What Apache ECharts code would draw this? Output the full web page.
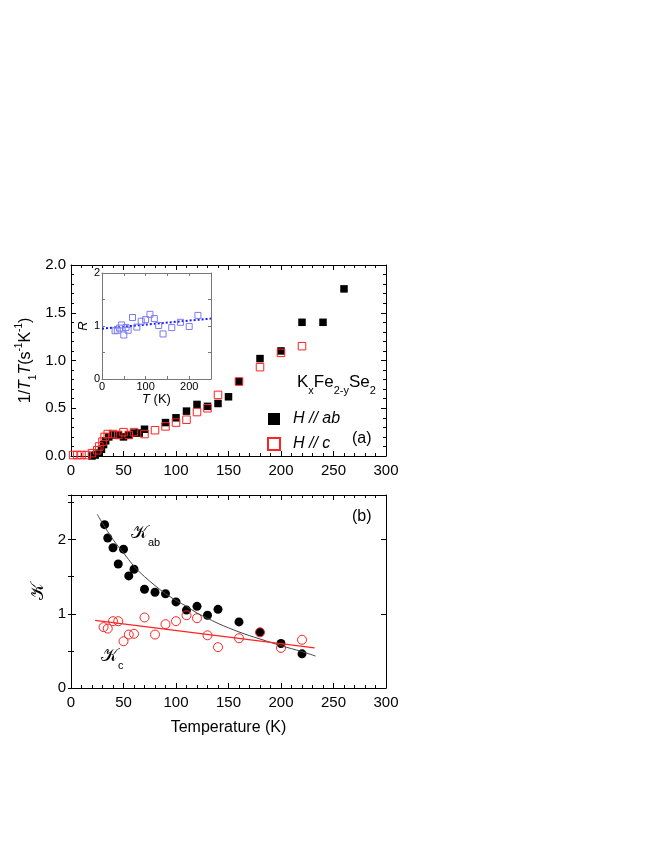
<!DOCTYPE html>
<html>
<head>
<meta charset="utf-8">
<script src="https://cdn.jsdelivr.net/npm/echarts@6/dist/echarts.min.js"></script>
<style>
html,body{margin:0;padding:0;background:#fff;}
#chart{width:664px;height:860px;}
</style>
</head>
<body>
<div id="chart"></div>
<script>
// ---- Panel (a): 1/T1T vs T ----
const abT   = [20, 23, 26, 29, 31, 33, 36, 40, 45, 50, 55, 60, 65, 70, 90, 100, 110, 120, 130, 140, 150, 160, 180, 200, 220, 240, 260];
const abVal = [0.0, 0.01, 0.03, 0.07, 0.12, 0.16, 0.2, 0.22, 0.22, 0.2, 0.22, 0.24, 0.24, 0.28, 0.35, 0.4, 0.47, 0.54, 0.52, 0.55, 0.62, 0.78, 1.02, 1.1, 1.4, 1.4, 1.75];
const cT    = [2, 6, 10, 15, 20, 25, 27, 30, 32, 35, 40, 45, 50, 55, 60, 70, 80, 90, 100, 110, 120, 130, 140, 160, 180, 200, 220];
const cVal  = [0.01, 0.01, 0.01, 0.01, 0.03, 0.06, 0.1, 0.15, 0.2, 0.23, 0.23, 0.22, 0.25, 0.22, 0.25, 0.23, 0.27, 0.31, 0.35, 0.38, 0.46, 0.5, 0.64, 0.78, 0.93, 1.08, 1.15];

// ---- Inset: R vs T ----
const insetT = [30, 35, 40, 45, 50, 55, 60, 70, 80, 90, 100, 110, 120, 130, 140, 160, 180, 200, 220];
const insetR = [0.91, 0.92, 0.96, 1.02, 0.83, 0.97, 0.92, 1.16, 0.98, 1.09, 1.12, 1.22, 1.14, 1.01, 0.85, 0.97, 1.07, 0.99, 1.2];
const insetFitT = [0, 250];
const insetFitR = [0.95, 1.14];

// ---- Panel (b): K vs T ----
const kabT   = [32, 35, 40, 45, 50, 55, 60, 70, 80, 90, 100, 110, 120, 130, 140, 160, 180, 200, 220];
const kabVal = [2.2, 2.02, 1.89, 1.67, 1.87, 1.51, 1.6, 1.33, 1.29, 1.27, 1.16, 1.05, 1.1, 0.98, 1.06, 0.89, 0.75, 0.6, 0.46];
const kcT    = [31, 35, 40, 45, 50, 55, 60, 70, 80, 90, 100, 110, 120, 130, 140, 160, 180, 200, 220];
const kcVal  = [0.82, 0.8, 0.9, 0.9, 0.63, 0.72, 0.73, 0.95, 0.72, 0.86, 0.9, 0.98, 0.94, 0.71, 0.55, 0.67, 0.75, 0.54, 0.65];
const kabFitT = [25, 30, 40, 50, 60, 70, 80, 90, 100, 110, 120, 130, 140, 150, 160, 170, 180, 190, 200, 210, 220, 233];
const kabFitV = [2.34, 2.22, 2.0, 1.82, 1.64, 1.5, 1.38, 1.27, 1.18, 1.1, 1.01, 0.94, 0.87, 0.81, 0.755, 0.705, 0.66, 0.615, 0.57, 0.53, 0.49, 0.43];
const kcFitT = [23, 232];
const kcFitV = [0.91, 0.54];

const xTicks = [0, 50, 100, 150, 200, 250, 300];

const pair = (xs, ys) => xs.map((x, i) => [x, ys[i]]);

const FONT = '"Liberation Sans", Arial, sans-serif';
const RED = '#ff2222';

function mainX(gi, pos, labels) {
  return {
    gridIndex: gi, type: 'value', position: pos, min: 0, max: 300, interval: 50,
    axisLine: {show: true, onZero: false, lineStyle: {color: '#000', width: 1}},
    axisTick: {show: true, inside: true, length: 5, lineStyle: {color: '#000'}},
    minorTick: {show: true, splitNumber: 5, length: 3, lineStyle: {color: '#000'}},
    axisLabel: {show: labels, color: '#000', fontSize: 15, fontFamily: FONT, margin: 7},
    splitLine: {show: false}
  };
}

const option = {
  animation: false,
  backgroundColor: '#fff',
  grid: [
    {left: 71, top: 265, width: 315, height: 191},
    {left: 102, top: 273, width: 109, height: 106, show: true, backgroundColor: '#fff', borderWidth: 0},
    {left: 71, top: 495, width: 315, height: 193}
  ],
  xAxis: [
    mainX(0, 'bottom', true),
    mainX(0, 'top', false),
    {
      gridIndex: 1, type: 'value', position: 'bottom', min: 0, max: 250, interval: 50,
      name: '{i|T} (K)', nameLocation: 'middle', nameGap: 13,
      nameTextStyle: {color: '#000', fontSize: 13, fontFamily: FONT, rich: {i: {fontStyle: 'italic', fontSize: 13, fontFamily: FONT}}},
      axisLine: {show: true, onZero: false, lineStyle: {color: '#777'}},
      axisTick: {show: true, inside: true, length: 3, lineStyle: {color: '#777'}},
      axisLabel: {show: true, color: '#000', fontSize: 11, fontFamily: FONT, margin: 2,
        formatter: v => (v % 100 === 0 ? String(v) : '')},
      splitLine: {show: false}
    },
    {
      gridIndex: 1, type: 'value', position: 'top', min: 0, max: 250, interval: 50,
      axisLine: {show: true, onZero: false, lineStyle: {color: '#777'}},
      axisTick: {show: true, inside: true, length: 3, lineStyle: {color: '#777'}},
      axisLabel: {show: false}, splitLine: {show: false}
    },
    Object.assign(mainX(2, 'bottom', true), {
      name: 'Temperature (K)', nameLocation: 'middle', nameGap: 32,
      nameTextStyle: {color: '#000', fontSize: 16, fontFamily: FONT}
    }),
    mainX(2, 'top', false)
  ],
  yAxis: [
    {
      gridIndex: 0, type: 'value', position: 'left', min: 0, max: 2, interval: 0.5,
      name: '{n|1/}{i|T}{s|1}{i|T}{n|(s}{p|-1}{n|K}{p|-1}{n|)}',
      nameLocation: 'middle', nameGap: 33,
      nameTextStyle: {
        color: '#000', fontSize: 16, fontFamily: FONT,
        rich: {
          n: {fontSize: 16, fontFamily: FONT, lineHeight: 18},
          i: {fontSize: 16, fontFamily: FONT, fontStyle: 'italic', lineHeight: 18},
          s: {fontSize: 10, fontFamily: FONT, verticalAlign: 'bottom', lineHeight: 24},
          p: {fontSize: 10, fontFamily: FONT, verticalAlign: 'top', lineHeight: 24}
        }
      },
      axisLine: {show: true, onZero: false, lineStyle: {color: '#000'}},
      axisTick: {show: true, inside: true, length: 5, lineStyle: {color: '#000'}},
      minorTick: {show: true, splitNumber: 5, length: 3, lineStyle: {color: '#000'}},
      axisLabel: {color: '#000', fontSize: 15, fontFamily: FONT, margin: 5, formatter: v => v.toFixed(1)},
      splitLine: {show: false}
    },
    {
      gridIndex: 0, type: 'value', position: 'right', min: 0, max: 2, interval: 0.5,
      axisLine: {show: true, onZero: false, lineStyle: {color: '#000'}},
      axisTick: {show: true, inside: true, length: 5, lineStyle: {color: '#000'}},
      minorTick: {show: true, splitNumber: 5, length: 3, lineStyle: {color: '#000'}},
      axisLabel: {show: false}, splitLine: {show: false}
    },
    {
      gridIndex: 1, type: 'value', position: 'left', min: 0, max: 2, interval: 0.5,
      name: 'R', nameLocation: 'middle', nameGap: 12,
      nameTextStyle: {color: '#000', fontSize: 13, fontFamily: FONT, fontStyle: 'italic'},
      axisLine: {show: true, onZero: false, lineStyle: {color: '#777'}},
      axisTick: {show: true, inside: true, length: 3, lineStyle: {color: '#777'}},
      axisLabel: {show: true, color: '#000', fontSize: 11, fontFamily: FONT, margin: 2,
        formatter: v => (v % 1 === 0 ? String(v) : '')},
      splitLine: {show: false}
    },
    {
      gridIndex: 1, type: 'value', position: 'right', min: 0, max: 2, interval: 0.5,
      axisLine: {show: true, onZero: false, lineStyle: {color: '#777'}},
      axisTick: {show: true, inside: true, length: 3, lineStyle: {color: '#777'}},
      axisLabel: {show: false}, splitLine: {show: false}
    },
    {
      gridIndex: 2, type: 'value', position: 'left', min: 0, max: 2.6, interval: 1,
      name: '𝒦', nameLocation: 'middle', nameGap: 24,
      nameTextStyle: {color: '#000', fontSize: 18, fontFamily: '"DejaVu Serif", "DejaVu Sans", serif'},
      axisLine: {show: true, onZero: false, lineStyle: {color: '#000'}},
      axisTick: {show: true, inside: true, length: 5, lineStyle: {color: '#000'}},
      axisLabel: {color: '#000', fontSize: 15, fontFamily: FONT, margin: 5, showMaxLabel: false,
        formatter: v => (v % 1 === 0 ? String(v) : '')},
      splitLine: {show: false}
    },
    {
      gridIndex: 2, type: 'value', position: 'right', min: 0, max: 2.6, interval: 1,
      axisLine: {show: true, onZero: false, lineStyle: {color: '#000'}},
      axisTick: {show: true, inside: true, length: 5, lineStyle: {color: '#000'}},
      axisLabel: {show: false}, splitLine: {show: false}
    },
    {
      gridIndex: 2, type: 'value', position: 'left', min: 0, max: 2.6, interval: 0.5,
      axisLine: {show: false}, axisLabel: {show: false}, splitLine: {show: false},
      axisTick: {show: true, inside: true, length: 3, lineStyle: {color: '#000'}}
    },
    {
      gridIndex: 2, type: 'value', position: 'right', min: 0, max: 2.6, interval: 0.5,
      axisLine: {show: false}, axisLabel: {show: false}, splitLine: {show: false},
      axisTick: {show: true, inside: true, length: 3, lineStyle: {color: '#000'}}
    }
  ],
  legend: {
    orient: 'vertical', left: 267, top: 411, padding: 0, itemWidth: 12, itemHeight: 12, itemGap: 9,
    data: ['H // ab', 'H // c'],
    textStyle: {color: '#000', fontSize: 16, fontFamily: FONT, fontStyle: 'italic', padding: [0, 0, 0, 8]}
  },
  series: [
    {
      name: 'H // ab', type: 'scatter', xAxisIndex: 0, yAxisIndex: 0,
      symbol: 'rect', symbolSize: 7.5, itemStyle: {color: '#000', opacity: 1},
      data: pair(abT, abVal)
    },
    {
      name: 'H // c', type: 'scatter', xAxisIndex: 0, yAxisIndex: 0,
      symbol: 'rect', symbolSize: 7.5,
      itemStyle: {color: 'rgba(255,255,255,0)', borderColor: RED, borderWidth: 1, opacity: 1},
      data: pair(cT, cVal)
    },
    {
      name: 'insetFit', type: 'line', xAxisIndex: 2, yAxisIndex: 2,
      symbol: 'none', lineStyle: {color: '#1a1aff', width: 2, type: 'dotted'},
      data: pair(insetFitT, insetFitR), z: 3
    },
    {
      name: 'inset', type: 'scatter', xAxisIndex: 2, yAxisIndex: 2,
      symbol: 'rect', symbolSize: 6,
      itemStyle: {color: 'rgba(255,255,255,0)', borderColor: '#7b7bf0', borderWidth: 1, opacity: 1},
      data: pair(insetT, insetR), z: 4
    },
    {
      name: 'kabFit', type: 'line', xAxisIndex: 4, yAxisIndex: 4,
      symbol: 'none', smooth: 0.3, lineStyle: {color: '#444', width: 1},
      data: pair(kabFitT, kabFitV)
    },
    {
      name: 'kcFit', type: 'line', xAxisIndex: 4, yAxisIndex: 4,
      symbol: 'none', lineStyle: {color: RED, width: 1.2},
      data: pair(kcFitT, kcFitV)
    },
    {
      name: 'Kab', type: 'scatter', xAxisIndex: 4, yAxisIndex: 4,
      symbol: 'circle', symbolSize: 9, itemStyle: {color: '#000', opacity: 1},
      data: pair(kabT, kabVal)
    },
    {
      name: 'Kc', type: 'scatter', xAxisIndex: 4, yAxisIndex: 4,
      symbol: 'circle', symbolSize: 9,
      itemStyle: {color: 'rgba(255,255,255,0)', borderColor: RED, borderWidth: 1, opacity: 1},
      data: pair(kcT, kcVal)
    }
  ],
  graphic: [
    {
      type: 'text', left: 297, top: 374,
      style: {
        text: '{a|K}{s|x}{a|Fe}{s|2-y}{a|Se}{s|2}',
        rich: {
          a: {fontSize: 17, fontFamily: FONT, fill: '#000', lineHeight: 18},
          s: {fontSize: 11, fontFamily: FONT, fill: '#000', verticalAlign: 'bottom', lineHeight: 28}
        }
      }
    },
    {type: 'text', left: 352, top: 431, style: {text: '(a)', fontSize: 16, fontFamily: FONT, fill: '#000'}},
    {type: 'text', left: 352, top: 509, style: {text: '(b)', fontSize: 16, fontFamily: FONT, fill: '#000'}},
    {
      type: 'text', left: 131, top: 524,
      style: {
        text: '{k|𝒦}{s|ab}',
        rich: {
          k: {fontSize: 18, fontFamily: '"DejaVu Serif", "DejaVu Sans", serif', fill: '#000', lineHeight: 20},
          s: {fontSize: 11, fontFamily: FONT, fill: '#000', verticalAlign: 'bottom', lineHeight: 30}
        }
      }
    },
    {
      type: 'text', left: 101, top: 647,
      style: {
        text: '{k|𝒦}{s|c}',
        rich: {
          k: {fontSize: 18, fontFamily: '"DejaVu Serif", "DejaVu Sans", serif', fill: '#000', lineHeight: 20},
          s: {fontSize: 11, fontFamily: FONT, fill: '#000', verticalAlign: 'bottom', lineHeight: 30}
        }
      }
    }
  ]
};

const chart = echarts.init(document.getElementById('chart'), null, {renderer: 'canvas'});
chart.setOption(option);
</script>
</body>
</html>
